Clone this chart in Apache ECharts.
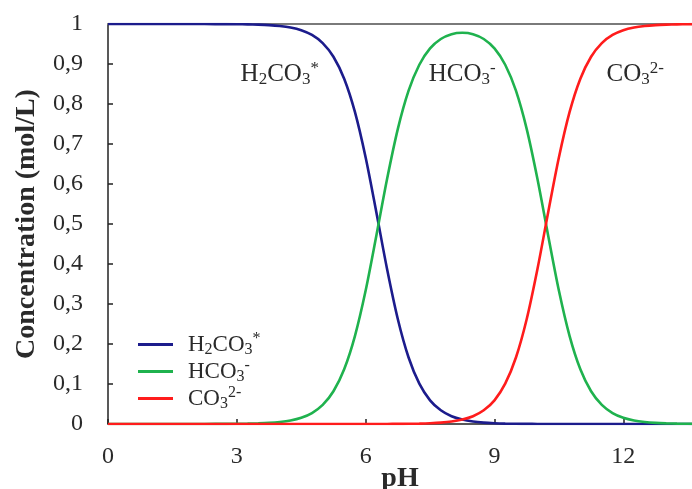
<!DOCTYPE html>
<html>
<head>
<meta charset="utf-8">
<script src="https://cdn.jsdelivr.net/npm/echarts@6/dist/echarts.min.js"></script>
<style>
html,body{margin:0;padding:0;background:#fff;overflow:hidden;}
#chart{width:692px;height:489px;}
</style>
</head>
<body>
<div id="chart"></div>
<script>
// pH values
var pH = [0, 1, 2, 2.5, 3, 3.25, 3.5, 3.75, 4, 4.25, 4.5, 4.75, 5, 5.25, 5.5, 5.75, 6, 6.25, 6.5, 6.75, 7, 7.25, 7.5, 7.75, 8, 8.25, 8.5, 8.75, 9, 9.25, 9.5, 9.75, 10, 10.25, 10.5, 10.75, 11, 11.25, 11.5, 11.75, 12, 12.25, 12.5, 12.75, 13, 13.25, 13.5, 13.75, 14];
// H2CO3*
var h2co3 = [1, 1, 1, 0.9998, 0.9995, 0.9991, 0.9984, 0.9972, 0.9950, 0.9912, 0.9844, 0.9726, 0.9523, 0.9182, 0.8632, 0.7801, 0.6661, 0.5287, 0.3869, 0.2619, 0.1662, 0.1008, 0.0592, 0.0342, 0.0194, 0.0110, 0.0061, 0.0034, 0.0019, 0.0010, 0.0005, 0.0003, 0.0001, 0, 0, 0, 0, 0, 0, 0, 0, 0, 0, 0, 0, 0, 0, 0, 0];
// HCO3-
var hco3 = [0, 0, 0, 0.0002, 0.0005, 0.0009, 0.0016, 0.0028, 0.0050, 0.0088, 0.0156, 0.0274, 0.0477, 0.0818, 0.1368, 0.2199, 0.3338, 0.4713, 0.6130, 0.7378, 0.8333, 0.8982, 0.9389, 0.9624, 0.9745, 0.9780, 0.9745, 0.9624, 0.9389, 0.8982, 0.8333, 0.7378, 0.6130, 0.4713, 0.3338, 0.2199, 0.1368, 0.0818, 0.0477, 0.0274, 0.0156, 0.0088, 0.0050, 0.0028, 0.0016, 0.0009, 0.0005, 0.0003, 0.0002];
// CO3 2-
var co3 = [0, 0, 0, 0, 0, 0, 0, 0, 0, 0, 0, 0, 0, 0, 0, 0, 0, 0, 0.0001, 0.0003, 0.0005, 0.0010, 0.0019, 0.0034, 0.0061, 0.0110, 0.0194, 0.0342, 0.0592, 0.1008, 0.1662, 0.2619, 0.3869, 0.5287, 0.6661, 0.7801, 0.8632, 0.9182, 0.9523, 0.9726, 0.9844, 0.9912, 0.9950, 0.9972, 0.9984, 0.9991, 0.9995, 0.9997, 0.9998];
var seriesNames = ['H2CO3*', 'HCO3-', 'CO32-'];
var xTicks = [0, 3, 6, 9, 12];

function pairs(ys) { return pH.map(function (x, i) { return [x, ys[i]]; }); }

var FONT = '"Liberation Serif", "DejaVu Serif", serif';
var TXT = '#2a2a2a';

function richFor(size, lh) {
  var sub = Math.round(size * 0.68);
  return {
    n: { fontFamily: FONT, fontSize: size, color: TXT, lineHeight: lh, verticalAlign: 'middle' },
    s: { fontFamily: FONT, fontSize: sub, color: TXT, lineHeight: lh, verticalAlign: 'bottom' },
    p: { fontFamily: FONT, fontSize: sub, color: TXT, lineHeight: lh, verticalAlign: 'top' }
  };
}
var labelMarkup = {
  'H2CO3*': '{n|H}{s|2}{n|CO}{s|3}{p|*}',
  'HCO3-': '{n|HCO}{s|3}{p|-}',
  'CO32-': '{n|CO}{s|3}{p|2-}'
};

var colors = ['#1c1c8c', '#1fb24e', '#ff1c1c'];
var labelPos = [[4.0, 0.875], [8.25, 0.875], [12.28, 0.875]];
var dataSets = [h2co3, hco3, co3];

var series = seriesNames.map(function (nm, k) {
  return {
    name: nm,
    type: 'line',
    data: pairs(dataSets[k]),
    smooth: 0.3,
    showSymbol: false,
    lineStyle: { color: colors[k], width: 2.6 },
    itemStyle: { color: colors[k] },
    z: 3 + k,
    markPoint: {
      symbol: 'circle',
      symbolSize: 0,
      silent: true,
      label: {
        show: true,
        position: 'inside',
        formatter: labelMarkup[nm],
        rich: richFor(25, 28)
      },
      data: [{ coord: labelPos[k] }]
    }
  };
});

var chart = echarts.init(document.getElementById('chart'), null, { renderer: 'canvas' });
chart.setOption({
  animation: false,
  backgroundColor: '#fff',
  grid: { left: 108, right: 0, top: 24, bottom: 65, outerBoundsMode: 'none', containLabel: false },
  legend: {
    orient: 'vertical',
    left: 133,
    top: 326,
    itemWidth: 35,
    itemHeight: 3,
    itemGap: 0,
    icon: 'rect',
    data: seriesNames,
    formatter: function (name) { return labelMarkup[name]; },
    textStyle: { rich: richFor(23, 27), padding: [0, 0, 0, 10] }
  },
  xAxis: [{
    type: 'value',
    min: 0,
    max: 13.6,
    interval: 3,
    position: 'bottom',
    name: 'pH',
    nameLocation: 'middle',
    nameGap: 41,
    nameMoveOverlap: false,
    nameTextStyle: { fontFamily: FONT, fontSize: 28, fontWeight: 'bold', color: TXT },
    axisLine: { show: true, lineStyle: { color: '#222', width: 1.5 } },
    axisTick: { show: true, inside: true, length: 5, lineStyle: { color: '#222', width: 1.5 } },
    axisLabel: {
      showMaxLabel: false,
      margin: 21,
      fontFamily: FONT, fontSize: 24, color: TXT,
      formatter: function (v) { return xTicks.indexOf(v) >= 0 ? String(v) : ''; }
    },
    splitLine: { show: false }
  }, {
    type: 'value',
    min: 0,
    max: 13.6,
    position: 'top',
    axisLine: { show: true, lineStyle: { color: '#7a7a7a', width: 2 } },
    axisTick: { show: false },
    axisLabel: { show: false },
    splitLine: { show: false }
  }],
  yAxis: {
    type: 'value',
    min: 0,
    max: 1,
    interval: 0.1,
    name: 'Concentration (mol/L)',
    nameLocation: 'middle',
    nameGap: 67,
    nameRotate: 90,
    nameMoveOverlap: false,
    nameTextStyle: { fontFamily: FONT, fontSize: 28, fontWeight: 'bold', color: TXT },
    axisLine: { show: true, lineStyle: { color: '#222', width: 1.5 } },
    axisTick: { show: true, inside: true, length: 5, lineStyle: { color: '#222', width: 1.5 } },
    axisLabel: {
      margin: 25,
      fontFamily: FONT, fontSize: 24, color: TXT,
      formatter: function (v) { return String(Math.round(v * 10) / 10).replace('.', ','); }
    },
    splitLine: { show: false }
  },
  series: series
});
</script>
</body>
</html>
